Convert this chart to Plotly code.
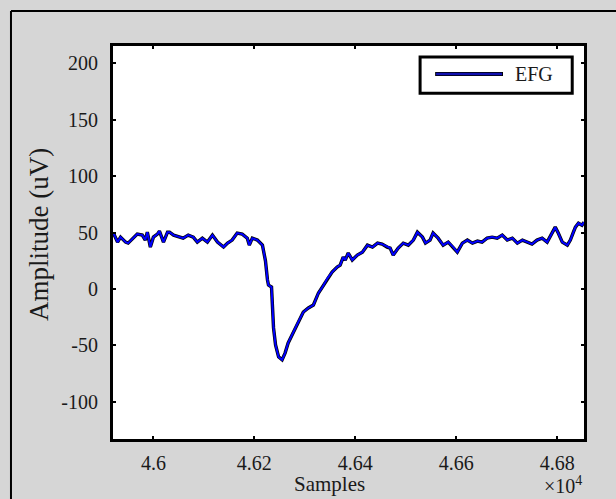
import plotly.graph_objects as go

# ---- data ----
samples = [45921, 45929, 45935, 45945, 45950, 45960, 45968, 45978, 45984, 45988,
           45994, 46000, 46008, 46012, 46020, 46028, 46032, 46040, 46050, 46059,
           46069, 46079, 46087, 46097, 46107, 46117, 46127, 46139, 46147, 46156,
           46166, 46176, 46186, 46190, 46196, 46206, 46216, 46222, 46226, 46228,
           46234, 46236, 46238, 46242, 46246, 46248, 46255, 46261, 46267, 46277,
           46287, 46297, 46307, 46317, 46327, 46335, 46345, 46354, 46364, 46370,
           46376, 46380, 46386, 46394, 46404, 46414, 46424, 46434, 46444, 46453,
           46463, 46469, 46475, 46485, 46495, 46505, 46515, 46523, 46533, 46539,
           46548, 46554, 46564, 46574, 46584, 46594, 46602, 46612, 46622, 46632,
           46642, 46651, 46661, 46671, 46681, 46691, 46701, 46711, 46721, 46731,
           46741, 46750, 46760, 46770, 46780, 46790, 46796, 46802, 46810, 46820,
           46826, 46832, 46836, 46842, 46849, 46853]
amplitude = [49.6, 41.6, 46.0, 41.6, 40.7, 45.1, 48.7, 47.8, 43.4, 50.4,
             37.2, 46.0, 48.7, 51.3, 41.6, 50.4, 50.4, 47.8, 46.0, 45.1,
             47.8, 46.0, 41.6, 45.1, 41.6, 47.8, 41.6, 37.2, 40.7, 43.4,
             49.6, 48.7, 45.1, 38.9, 45.1, 43.4, 38.9, 25.0, 8.0, 3.5,
             1.8, -16.8, -34.5, -49.6, -56.6, -60.2, -62.8, -56.6, -47.8, -38.1,
             -29.2, -20.4, -16.8, -14.2, -3.5, 1.8, 9.7, 15.0, 19.5, 21.2,
             28.3, 25.7, 31.9, 25.7, 30.1, 32.7, 38.9, 37.2, 40.7, 39.8,
             37.2, 36.3, 30.1, 36.3, 40.7, 38.9, 43.4, 50.4, 46.0, 40.7,
             43.4, 49.6, 45.1, 38.9, 41.6, 37.2, 32.7, 40.7, 43.4, 40.7,
             42.5, 41.6, 45.1, 46.0, 45.1, 47.8, 43.4, 45.1, 40.7, 43.4,
             41.6, 39.8, 43.4, 45.1, 41.6, 49.6, 54.9, 49.6, 41.6, 38.9,
             43.4, 50.4, 54.9, 58.4, 56.6, 59.3]

x_tickvals = [46000, 46200, 46400, 46600, 46800]
x_ticktext = ["4.6", "4.62", "4.64", "4.66", "4.68"]
y_tickvals = [-100, -50, 0, 50, 100, 150, 200]
y_ticktext = ["-100", "-50", "0", "50", "100", "150", "200"]
series_name = "EFG"

FONT = "'Liberation Serif', 'Times New Roman', serif"
BG = "#d6d6d6"
TXT = "#1a1a1a"

fig = go.Figure()
fig.add_trace(go.Scatter(x=samples, y=amplitude, mode="lines",
                         line=dict(color="black", width=3.4),
                         showlegend=False, hoverinfo="skip"))
fig.add_trace(go.Scatter(x=samples, y=amplitude, mode="lines", name=series_name,
                         line=dict(color="#0000ff", width=2.0),
                         showlegend=False))

axis_common = dict(showline=True, linecolor="black", linewidth=3, mirror="ticks",
                   ticks="inside", ticklen=3, tickwidth=2, tickcolor="black",
                   showgrid=False, zeroline=False,
                   tickfont=dict(family=FONT, size=20, color=TXT))

fig.update_xaxes(range=[45920, 46853], tickmode="array", tickvals=x_tickvals,
                 ticktext=x_ticktext, ticklabelstandoff=4, **axis_common)
fig.update_yaxes(range=[-133, 215.5], tickmode="array", tickvals=y_tickvals,
                 ticktext=y_ticktext, ticklabelstandoff=8, **axis_common)

shapes = [
    # outer figure border: only top and left edges are visible in the reference
    dict(type="line", xref="paper", yref="paper", x0=-0.2166, x1=1.1, y0=1.089, y1=1.089,
         line=dict(color="black", width=2), layer="below"),
    dict(type="line", xref="paper", yref="paper", x0=-0.2166, x1=-0.2166, y0=1.089, y1=-0.2,
         line=dict(color="black", width=2), layer="below"),
    # cover the right strip of the figure in background colour
    dict(type="rect", xref="paper", yref="paper", x0=1.03, x1=1.2, y0=-0.3, y1=1.05,
         line=dict(width=0), fillcolor=BG, layer="above"),
    # legend box
    dict(type="rect", xref="paper", yref="paper", x0=0.652, x1=0.975, y0=0.880, y1=0.972,
         line=dict(color="black", width=3), fillcolor="white"),
    dict(type="line", xref="paper", yref="paper", x0=0.684, x1=0.828, y0=0.929, y1=0.929,
         line=dict(color="black", width=4)),
    dict(type="line", xref="paper", yref="paper", x0=0.686, x1=0.826, y0=0.929, y1=0.929,
         line=dict(color="#1010b0", width=2.5)),
]

annotations = [
    dict(text=series_name, xref="paper", yref="paper", x=0.849, y=0.929,
         xanchor="left", yanchor="middle", showarrow=False,
         font=dict(family=FONT, size=20, color=TXT)),
    dict(text="Samples", xref="paper", yref="paper", x=0.4607, y=-0.115,
         xanchor="center", yanchor="middle", showarrow=False,
         font=dict(family=FONT, size=21, color=TXT)),
    dict(text="×10<sup>4</sup>", xref="paper", yref="paper", x=0.955, y=-0.118,
         xanchor="center", yanchor="middle", showarrow=False,
         font=dict(family=FONT, size=20, color=TXT)),
    dict(text="Amplitude (uV)", xref="paper", yref="paper", x=-0.157, y=0.519,
         xanchor="center", yanchor="middle", showarrow=False, textangle=-90,
         font=dict(family=FONT, size=27, color=TXT)),
]

fig.update_layout(width=616, height=499,
                  margin=dict(l=113, r=32, t=46, b=60),
                  paper_bgcolor=BG, plot_bgcolor="white",
                  shapes=shapes, annotations=annotations,
                  showlegend=False)

fig.write_html("out.html")
